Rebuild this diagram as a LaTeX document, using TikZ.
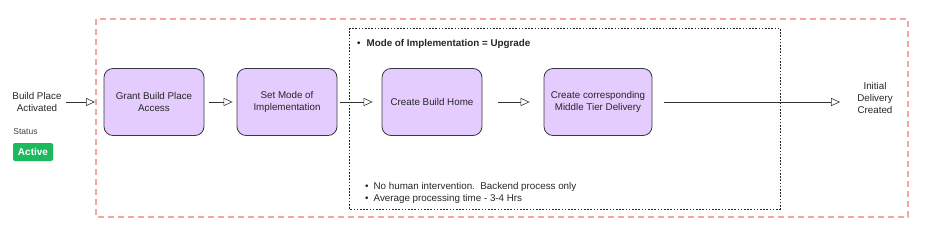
\documentclass[tikz,border=0pt]{standalone}
\usepackage{fontspec}
\setmainfont{Liberation Sans}
\usetikzlibrary{arrows.meta,positioning}
\definecolor{boxfill}{HTML}{E5CCFF}
\definecolor{boxline}{HTML}{36393D}
\definecolor{redash}{HTML}{F4A6A3}
\definecolor{activegreen}{HTML}{1DB95F}
\begin{document}
\begin{tikzpicture}[x=1pt,y=-1pt,
  every node/.style={font=\fontsize{9.8}{12}\selectfont, text=black!85},
  stepbox/.style={draw=boxline, fill=boxfill, rounded corners=9pt, line width=0.8pt,
    minimum width=100pt, minimum height=67pt, align=center, inner sep=2pt},
  plain/.style={align=center, inner sep=1pt},
  flow/.style={-{Triangle[open,length=9pt,width=8pt]}, line width=0.6pt, draw=black!80},
]
\useasboundingbox (0,0) rectangle (925,236);
% outer red dashed frame
\draw[redash, line width=1.1pt, dash pattern=on 6pt off 4pt] (96,19) rectangle (908,217);
% inner dotted frame
\draw[black!85, line width=0.8pt, dash pattern=on 1.6pt off 1.6pt] (349,28) rectangle (780,209);

\node[plain] (start) at (37,101.5) {Build Place\\Activated};
\node[plain, font=\fontsize{8.5}{10}\selectfont, text=black!75] (status) at (25.5,132) {Status};
\node[fill=activegreen, rounded corners=2pt, minimum width=40pt, minimum height=18pt,
      text=white, font=\fontsize{10}{12}\selectfont\bfseries, inner sep=1pt] (active) at (33,152) {Active};

\node[stepbox] (grant) at (154,102) {Grant Build Place\\Access};
\node[stepbox] (mode) at (287,102) {Set Mode of\\Implementation};
\node[stepbox] (home) at (432,102) {Create Build Home};
\node[stepbox, minimum width=108pt] (mtd) at (598,102) {Create corresponding\\Middle Tier Delivery};
\node[plain] (done) at (875,98) {Initial\\Delivery\\Created};

\coordinate (s1) at (66,102);
\coordinate (t1) at (95,102);
\draw[flow] (s1) -- (t1);
\draw[flow] ([xshift=5pt]grant.east) -- ([xshift=-4pt]mode.west);
\draw[flow] ([xshift=3pt]mode.east) -- ([xshift=-9pt]home.west);
\draw[flow] ([xshift=16pt]home.east) -- ([xshift=-14pt]mtd.west);
\draw[flow] ([xshift=12pt]mtd.east) -- ([xshift=-16pt]done.west |- mtd.east);

\node[anchor=west, inner sep=0pt, font=\fontsize{9.8}{12}\selectfont\bfseries] (hdr) at (357,44) {\textbullet\hspace{6pt}Mode of Implementation = Upgrade};
\node[anchor=west, inner sep=0pt, align=left, font=\fontsize{9.8}{12.5}\selectfont] (notes) at (365,193)
  {\textbullet\hspace{5pt}No human intervention.\ \ Backend process only\\\textbullet\hspace{5pt}Average processing time - 3-4 Hrs};
\end{tikzpicture}
\end{document}
